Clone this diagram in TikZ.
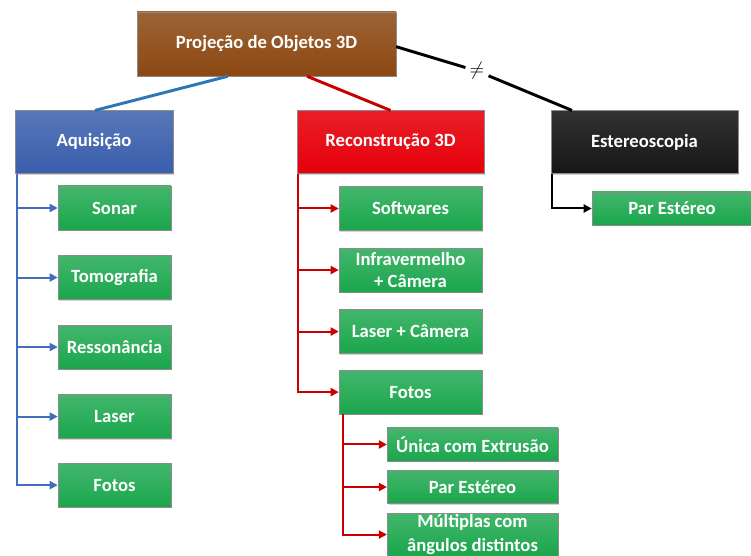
\documentclass[tikz,border=0pt]{standalone}
\usepackage{fontspec}
\setmainfont{Carlito}
\usepackage{tikz}
\usetikzlibrary{positioning,shadows,arrows.meta}

\definecolor{marrom}{RGB}{140,72,18}
\definecolor{azul}{RGB}{58,94,172}
\definecolor{vermelho}{RGB}{230,0,10}
\definecolor{preto}{RGB}{22,22,22}
\definecolor{verde}{RGB}{26,166,76}
\definecolor{linhaazul}{RGB}{46,117,182}
\definecolor{setaazul}{RGB}{68,108,190}
\definecolor{linhavermelha}{RGB}{200,0,0}

\tikzstyle{caixa} = [rectangle,
                    text centered,
                    align=center,
                    text=white,
                    font=\fontsize{14}{18}\selectfont\bfseries,
                    draw=black!45,
                    line width=0.4pt,
                    drop shadow={shadow xshift=1pt,shadow yshift=-1pt,opacity=0.35}]
\tikzstyle{raiz} = [caixa,
                    minimum width=194pt,
                    minimum height=48pt,
                    top color=marrom!85!white,
                    bottom color=marrom]
\tikzstyle{ramo} = [caixa,
                    minimum width=140pt,
                    minimum height=47pt]
\tikzstyle{folha} = [caixa,
                    minimum height=33pt,
                    top color=verde!82!white,
                    bottom color=verde]
\tikzstyle{folhapeq} = [folha,
                    minimum width=128pt,
                    minimum height=24.75pt]
\tikzstyle{seta} = [line width=1.5pt, -{Triangle[length=6pt,width=6pt]}]

\begin{document}
\begin{tikzpicture}[x=0.75pt,y=-0.75pt]
\useasboundingbox (0,0) rectangle (751,556);

\node (raiz) [raiz] at (266.5,44) {Projeção de Objetos 3D};

\node (aquisicao) [ramo, minimum width=118.5pt, top color=azul!85!white, bottom color=azul] at (94,142) {Aquisição};
\node (reconst) [ramo, top color=vermelho!88!white, bottom color=vermelho] at (390.5,142) {Reconstrução 3D};
\node (estereo) [ramo, top color=preto!88!white, bottom color=preto] at (644.5,142) {Estereoscopia};

% aquisicao
\node (sonar) [folha, minimum width=84.75pt] at (114.5,208) {Sonar};
\node (tomo) [folha, minimum width=84.75pt, below=18.75pt of sonar] {Tomografia};
\node (resson) [folha, minimum width=84.75pt, below=18.75pt of tomo] {Ressonância};
\node (laser) [folha, minimum width=84.75pt, below=18.75pt of resson] {Laser};
\node (fotosa) [folha, minimum width=84.75pt, below=18pt of laser] {Fotos};

% reconstrucao
\node (softw) [folha, minimum width=107.25pt] at (410.5,208.5) {Softwares};
\node (infra) [folha, minimum width=107.25pt, inner ysep=0pt, font=\fontsize{14}{17}\selectfont\bfseries, below=12.75pt of softw] {Infravermelho\\+ Câmera};
\node (lasercam) [folha, minimum width=107.25pt, below=12.75pt of infra] {Laser + Câmera};
\node (fotosr) [folha, minimum width=107.25pt, below=12pt of lasercam] {Fotos};

\node (unica) [folhapeq] at (472.5,444.5) {Única com Extrusão};
\node (parr) [folhapeq, below=6.75pt of unica] {Par Estéreo};
\node (multi) [folhapeq, inner ysep=1pt, below=6.75pt of parr] {Múltiplas com\\ângulos distintos};

% estereoscopia
\node (pare) [folha, minimum width=120pt, minimum height=24.75pt] at (672,208.5) {Par Estéreo};

% ligacoes da raiz
\node (dif) [inner sep=3pt, font=\fontsize{14}{14}\selectfont] at (477,71) {$\neq$};
\draw [linhaazul, line width=2.2pt] ([xshift=-29pt]raiz.south) -- ([xshift=0.75pt]aquisicao.north);
\draw [linhavermelha, line width=2.2pt] ([xshift=30.4pt]raiz.south) -- (reconst.north);
\draw [black, line width=2.2pt] ([yshift=-2pt]raiz.east) -- (dif) -- ([xshift=-54.4pt]estereo.north);

\foreach \f in {sonar,tomo,resson,laser,fotosa}
  \draw [seta, setaazul] ([xshift=1.5pt]aquisicao.south west) |- (\f.west);
\foreach \f in {softw,infra,lasercam,fotosr}
  \draw [seta, linhavermelha] ([xshift=1pt]reconst.south west) |- (\f.west);
\foreach \f in {unica,parr,multi}
  \draw [seta, linhavermelha] ([xshift=3pt]fotosr.south west) |- (\f.west);
\draw [seta, black] ([xshift=0.75pt]estereo.south west) |- (pare.west);
\end{tikzpicture}
\end{document}
